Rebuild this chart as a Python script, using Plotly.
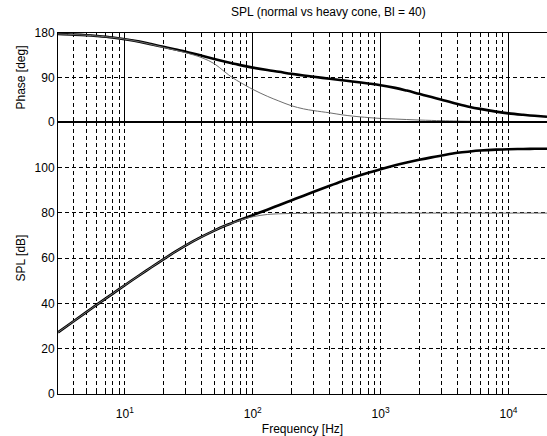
import math
import plotly.graph_objects as go

# Frequency grid (Hz) at which the responses were evaluated
freq = [3, 4, 5, 6, 8, 10, 13, 16, 20, 25, 30, 40, 50, 60, 70, 80, 100, 130, 160,
        200, 250, 300, 400, 500, 600, 800, 1000, 1300, 1600, 2000, 2500, 3000,
        4000, 5000, 6000, 8000, 10000, 13000, 16000, 20000]

# Phase [deg]
phase_normal = [178, 176.8, 175.5, 174, 171, 167.5, 162.5, 157.5, 152, 146.5, 142,
                134, 127.5, 122.5, 118.5, 115, 110, 105, 101.5, 97.5, 94, 91.5,
                87.5, 84.5, 82, 78, 74.5, 69, 63.5, 57, 50.5, 45, 36.5, 30.5, 26.5,
                21, 17.5, 14.5, 12.5, 10.5]
phase_heavy = [178, 176.8, 175.5, 174, 171, 167.5, 162.3, 157, 151, 145, 140, 130,
               118, 102, 89, 80, 66, 52, 42.5, 33, 26.5, 23, 18.5, 14.5, 12, 9, 7.2,
               6, 5, 4, 3.2, 2.6, 1.9, 1.5, 1.2, 0.9, 0.7, 0.5, 0.4, 0.3]

# SPL [dB]
spl_normal = [27.2, 32.2, 36.1, 39.3, 44.2, 48, 52.4, 55.8, 59.4, 62.9, 65.6, 69.4,
              72.1, 74.1, 75.6, 76.9, 78.9, 81.3, 83.3, 85.4, 87.5, 89.2, 91.9, 93.9,
              95.4, 97.6, 99.2, 100.9, 102.1, 103.3, 104.4, 105.2, 106.4, 107, 107.4,
              107.8, 108, 108.1, 108.2, 108.2]
spl_heavy = [27.2, 32.2, 36.1, 39.3, 44.2, 48, 52.4, 55.8, 59.4, 62.9, 65.6, 69.4,
             72.1, 74.1, 75.5, 76.7, 78.2, 79.2, 79.5, 79.65, 79.7, 79.75, 79.8, 79.8,
             79.8, 79.8, 79.8, 79.8, 79.8, 79.8, 79.8, 79.8, 79.8, 79.8, 79.8, 79.8,
             79.8, 79.8, 79.8, 79.8]

decades = [10, 100, 1000, 10000]
decade_labels = ["10<sup>1</sup>", "10<sup>2</sup>", "10<sup>3</sup>", "10<sup>4</sup>"]
minor_vals = [m * 10 ** k for k in range(0, 5) for m in range(2, 10)
              if 3 <= m * 10 ** k <= 20000]

phase_ticks = [0, 90, 180]
spl_ticks = [0, 20, 40, 60, 80, 100]

W, H = 547, 436
ML, MR, MT, MB = 58, 0, 33, 42
split = (394 - 122) / (H - MT - MB)   # boundary between the two panels

DASH = "4px,3px"
FONT = "Liberation Sans, Arial, sans-serif"

fig = go.Figure()

thick = dict(color="black", width=2.6)
thin = dict(color="#6e6e6e", width=1)

fig.add_trace(go.Scatter(x=freq, y=phase_normal, mode="lines", line=thick,
                         line_shape="spline", xaxis="x", yaxis="y", showlegend=False))
fig.add_trace(go.Scatter(x=freq, y=phase_heavy, mode="lines", line=thin,
                         line_shape="spline", xaxis="x", yaxis="y", showlegend=False))
fig.add_trace(go.Scatter(x=freq, y=spl_normal, mode="lines", line=thick,
                         line_shape="spline", xaxis="x2", yaxis="y2", showlegend=False))
fig.add_trace(go.Scatter(x=freq, y=spl_heavy, mode="lines", line=thin,
                         line_shape="spline", xaxis="x2", yaxis="y2", showlegend=False))

xrange_log = [math.log10(3), math.log10(20000)]

common_x = dict(type="log", range=xrange_log, showline=True, linecolor="black",
                linewidth=1, mirror=True, ticks="inside", ticklen=4,
                tickcolor="black", gridcolor="black", gridwidth=1,
                tickfont=dict(family=FONT, size=12, color="black"),
                minor=dict(tickmode="array", tickvals=minor_vals, showgrid=True,
                           gridcolor="black", gridwidth=1, griddash=DASH,
                           ticks="inside", ticklen=2, tickcolor="black"))

fig.update_layout(
    width=W, height=H,
    margin=dict(l=ML, r=MR, t=MT, b=MB),
    paper_bgcolor="white", plot_bgcolor="white",
    font=dict(family=FONT, size=12, color="black"),
    title=dict(text="SPL (normal vs heavy cone, Bl = 40)", x=(ML + (W - MR)) / 2 / W,
               xanchor="center", xref="paper", y=1 - 12 / H, yanchor="middle",
               yref="container", font=dict(family=FONT, size=12, color="black")),
    xaxis=dict(common_x, domain=[0, 1], anchor="y", tickmode="array",
               tickvals=decades, showticklabels=False, showgrid=True,
               griddash="solid"),
    yaxis=dict(domain=[split, 1], anchor="x", range=[0, 180], tickmode="array",
               tickvals=phase_ticks, showline=True, linecolor="black", linewidth=1,
               ticks="inside", ticklen=4, tickcolor="black", showgrid=True,
               gridcolor="black", gridwidth=1, griddash=DASH, zeroline=False,
               tickfont=dict(family=FONT, size=12, color="black"),
               title=dict(text="Phase [deg]", standoff=6,
                          font=dict(family=FONT, size=12, color="black"))),
    xaxis2=dict(common_x, domain=[0, 1], anchor="y2", tickmode="array",
                tickvals=decades, ticktext=decade_labels, showgrid=True,
                griddash=DASH, ticklabelstandoff=9,
                title=dict(text="Frequency [Hz]", standoff=5,
                           font=dict(family=FONT, size=12, color="black"))),
    yaxis2=dict(domain=[0, split], anchor="x2", range=[0, 120], tickmode="array",
                tickvals=spl_ticks, showline=True, linecolor="black", linewidth=1,
                ticks="inside", ticklen=4, tickcolor="black", showgrid=True,
                gridcolor="black", gridwidth=1, griddash=DASH, zeroline=False,
                tickfont=dict(family=FONT, size=12, color="black"),
                title=dict(text="SPL [dB]", standoff=6,
                           font=dict(family=FONT, size=12, color="black"))),
)

# Heavy separator between the phase and SPL panels (phase = 0 line)
fig.add_shape(type="line", xref="x domain", yref="y", x0=0, x1=1, y0=0, y1=0,
              line=dict(color="black", width=2), layer="above")

fig.write_html("out.html")
